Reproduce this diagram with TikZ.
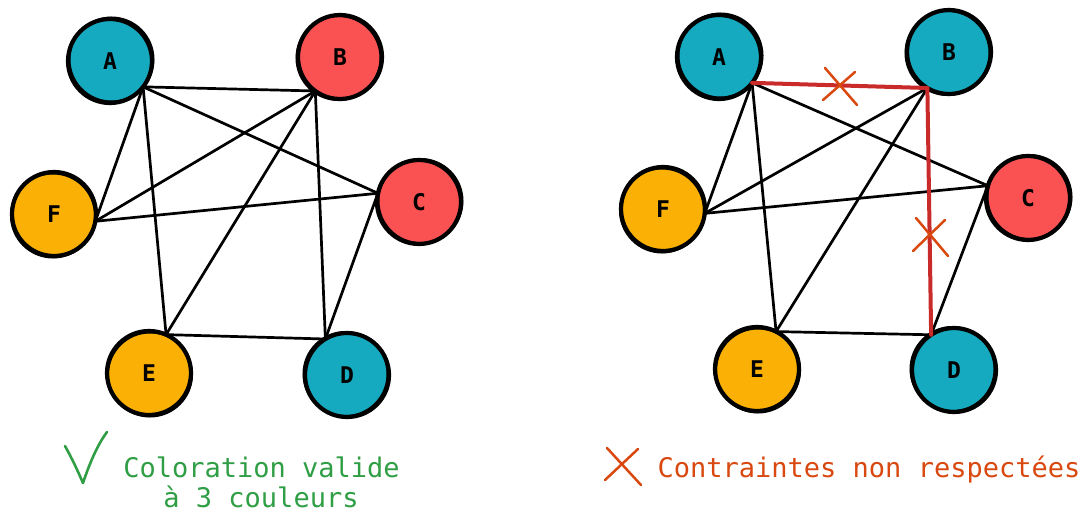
\documentclass[tikz,border=0pt]{standalone}
\usepackage{fontspec}
\newfontfamily\monofnt{DejaVu Sans Mono}
\definecolor{cTeal}{HTML}{15AABF}
\definecolor{cRed}{HTML}{FA5252}
\definecolor{cOrange}{HTML}{FAB005}
\definecolor{cGreen}{HTML}{2F9E44}
\definecolor{cOrg}{HTML}{D9480F}
\definecolor{cBad}{HTML}{C92A2A}
\begin{document}
\begin{tikzpicture}[x=1pt,y=-1pt,
  vert/.style={circle, minimum size=84pt, inner sep=0pt, outer sep=0pt, draw=black, line width=4.2pt, font=\monofnt\bfseries\fontsize{23}{23}\selectfont},
  link/.style={line width=2.7pt, line cap=round},
  badlink/.style={line width=4pt, line cap=round, draw=cBad},
  cross/.style={line width=2.5pt, draw=cOrg, line cap=round},
  legend/.style={font=\monofnt\fontsize{27}{30}\selectfont, anchor=base}]
\useasboundingbox (0,0) rectangle (1083,514);
% ---------- left graph ----------
\node[vert, fill=cTeal] (aL) at (110,61) {A};
\node[vert, fill=cRed] (bL) at (340,57) {B};
\node[vert, fill=cRed] (cL) at (419,202) {C};
\node[vert, fill=cOrange] (fL) at (54,214) {F};
\node[vert, fill=cOrange] (eL) at (149,373) {E};
\node[vert, fill=cTeal] (dL) at (347,375) {D};
\foreach \n/\dx/\dy in {aL/1.5/-1.5, bL/-1.5/1, cL/1.5/-1, fL/-1/1.5, eL/1/1.5, dL/-1.5/-1}
  \draw[line width=2pt] ([shift={(\dx,\dy)}]\n.center) circle[radius=42pt];
\draw[link] (aL.-38) -- (bL.-126);
\draw[link] (aL.-38) -- (cL.168);
\draw[link] (aL.-38) -- (fL.-10);
\draw[link] (aL.-38) -- (eL.66);
\draw[link] (bL.-126) -- (fL.-10);
\draw[link] (bL.-126) -- (eL.66);
\draw[link] (bL.-126) -- (dL.121);
\draw[link] (cL.168) -- (fL.-10);
\draw[link] (cL.168) -- (dL.121);
\draw[link] (eL.66) -- (dL.121);
% ---------- right graph ----------
\node[vert, fill=cTeal] (aR) at (719,57) {A};
\node[vert, fill=cTeal] (bR) at (949,52) {B};
\node[vert, fill=cRed] (cR) at (1028,198) {C};
\node[vert, fill=cOrange] (fR) at (663,209) {F};
\node[vert, fill=cOrange] (eR) at (757,369) {E};
\node[vert, fill=cTeal] (dR) at (954,370) {D};
\foreach \n/\dx/\dy in {aR/1.5/-1.5, bR/-1.5/1, cR/1.5/-1, fR/-1/1.5, eR/1/1.5, dR/-1.5/-1}
  \draw[line width=2pt] ([shift={(\dx,\dy)}]\n.center) circle[radius=42pt];
\draw[link] (aR.-38) -- (cR.163);
\draw[link] (aR.-38) -- (fR.-6);
\draw[link] (aR.-38) -- (eR.63);
\draw[link] (bR.-121) -- (fR.-6);
\draw[link] (bR.-121) -- (eR.63);
\draw[link] (cR.163) -- (fR.-6);
\draw[link] (cR.163) -- (dR.123);
\draw[link] (eR.63) -- (dR.123);
\draw[badlink] (aR.-38) -- (bR.-121);
\draw[badlink] (bR.-121) -- (dR.123);
% crosses on violated edges
\draw[cross] (825,68) -- (857,105);
\draw[cross] (823,100) -- (855,72);
\draw[cross] (916,218) -- (948,256);
\draw[cross] (913,251) -- (945,220);
% ---------- legends ----------
\draw[line width=2.6pt, draw=cGreen, line cap=round, line join=round] (65,446) .. controls (74,462) and (79,474) .. (83,483) .. controls (90,462) and (98,444) .. (107,432);
\node[legend, text=cGreen] (okA) at (261.5,477) {Coloration valide};
\node[legend, text=cGreen] (okB) at (261,507) {à 3 couleurs};
\draw[cross] (607,448) -- (641,485);
\draw[cross] (605,480) -- (638,449);
\node[legend, text=cOrg] (bad) at (869,477) {Contraintes non respectées};
\end{tikzpicture}
\end{document}
